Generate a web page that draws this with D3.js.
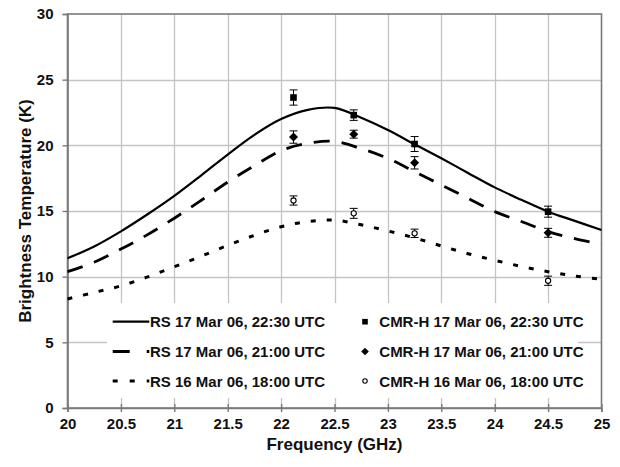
<!DOCTYPE html>
<html>
<head>
<meta charset="utf-8">
<script src="https://cdn.jsdelivr.net/npm/d3@7"></script>
<style>
  html, body { margin: 0; padding: 0; background: #fff; }
  svg text { font-family: "Liberation Sans", Arial, sans-serif; font-weight: bold; fill: #111; }
</style>
</head>
<body>
<svg id="chart" width="620" height="467"></svg>
<script>
// ---- data ----
const freqRS = [20, 20.25, 20.5, 20.75, 21, 21.25, 21.5, 21.75, 22, 22.25, 22.5, 22.75, 23, 23.25, 23.5, 23.75, 24, 24.25, 24.5, 24.75, 25];
const rs17_2230 = [11.4, 12.3, 13.45, 14.75, 16.15, 17.7, 19.3, 20.8, 22.0, 22.7, 22.85, 22.1, 21.17, 20.08, 19.01, 17.9, 16.8, 15.85, 14.95, 14.25, 13.55];
const rs17_2100 = [10.38, 11.1, 12.1, 13.2, 14.45, 15.8, 17.2, 18.45, 19.6, 20.15, 20.3, 19.75, 19.0, 18.0, 16.98, 15.97, 14.95, 14.2, 13.43, 12.9, 12.45];
const rs16_1800 = [8.3, 8.8, 9.3, 9.98, 10.76, 11.55, 12.38, 13.15, 13.8, 14.2, 14.3, 13.95, 13.48, 12.95, 12.34, 11.75, 11.25, 10.78, 10.38, 10.05, 9.8];

const freqCMR = [22.116, 22.68, 23.25, 24.5];
const cmr17_2230 = [23.64, 22.3, 20.1, 14.95];
const err17_2230 = [0.58, 0.4, 0.57, 0.42];
const cmr17_2100 = [20.63, 20.85, 18.67, 13.34];
const err17_2100 = [0.47, 0.3, 0.47, 0.34];
const cmr16_1800 = [15.8, 14.82, 13.3, 9.69];
const err16_1800 = [0.35, 0.38, 0.32, 0.35];

const xTicks = [20, 20.5, 21, 21.5, 22, 22.5, 23, 23.5, 24, 24.5, 25];
const yTicks = [0, 5, 10, 15, 20, 25, 30];

const rsLabels = ["RS 17 Mar 06, 22:30 UTC", "RS 17 Mar 06, 21:00 UTC", "RS 16 Mar 06, 18:00 UTC"];
const cmrLabels = ["CMR-H 17 Mar 06, 22:30 UTC", "CMR-H 17 Mar 06, 21:00 UTC", "CMR-H 16 Mar 06, 18:00 UTC"];

// ---- layout ----
const svg = d3.select("#chart");
const L = 67.5, R = 601.5, T = 14, B = 408;
const x = d3.scaleLinear().domain([20, 25]).range([L, R]);
const y = d3.scaleLinear().domain([0, 30]).range([B, T]);
const axisColor = "#7a7a7a", gridColor = "#c4c4c4";

svg.append("rect").attr("width", 620).attr("height", 467).attr("fill", "#fff");

// grid
const g = svg.append("g");
g.selectAll(".vg").data(xTicks.slice(1, -1)).enter().append("line")
  .attr("x1", d => Math.round(x(d)) + 0.5).attr("x2", d => Math.round(x(d)) + 0.5)
  .attr("y1", T).attr("y2", B).attr("stroke", gridColor).attr("stroke-width", 1.3);
g.selectAll(".hg").data(yTicks.slice(1, -1)).enter().append("line")
  .attr("y1", d => Math.round(y(d)) + 0.5).attr("y2", d => Math.round(y(d)) + 0.5)
  .attr("x1", L).attr("x2", R).attr("stroke", gridColor).attr("stroke-width", 1.3);

// legend background (covers grid)
svg.append("rect").attr("x", 107).attr("y", 303).attr("width", 471).attr("height", 95).attr("fill", "#fff");

// frame
svg.append("rect").attr("x", L).attr("y", T).attr("width", R - L).attr("height", B - T)
  .attr("fill", "none").attr("stroke", axisColor).attr("stroke-width", 1.6);

// axes
const xAxis = d3.axisBottom(x).tickValues(xTicks).tickSize(4).tickPadding(6).tickFormat(d3.format("~g"));
const xg = svg.append("g").attr("transform", `translate(0,${B})`).call(xAxis);
xg.select(".domain").attr("stroke", axisColor).attr("stroke-width", 1.6);
xg.selectAll(".tick line").attr("stroke", axisColor).attr("stroke-width", 1.4).attr("y1", -4);
xg.selectAll(".tick text").attr("font-size", 15).attr("fill", "#111")
  .style("font-family", "'Liberation Sans', Arial, sans-serif").style("font-weight", "bold");

const yAxis = d3.axisLeft(y).tickValues(yTicks).tickSize(5).tickPadding(9);
const yg = svg.append("g").attr("transform", `translate(${L},0)`).call(yAxis);
yg.select(".domain").attr("stroke", axisColor).attr("stroke-width", 1.6);
yg.selectAll(".tick line").attr("stroke", axisColor).attr("stroke-width", 1.4);
yg.selectAll(".tick text").attr("font-size", 15).attr("fill", "#111")
  .style("font-family", "'Liberation Sans', Arial, sans-serif").style("font-weight", "bold");

// axis titles
svg.append("text").attr("x", (L + R) / 2).attr("y", 450).attr("text-anchor", "middle")
  .attr("font-size", 17).text("Frequency (GHz)");
svg.append("text").attr("transform", "translate(31,211) rotate(-90)").attr("text-anchor", "middle")
  .attr("font-size", 17).text("Brightness Temperature (K)");

// curves
const series = [
  { vals: rs17_2230, dash: null, w: 2.2 },
  { vals: rs17_2100, dash: "16,12", w: 2.8 },
  { vals: rs16_1800, dash: "5,11", w: 3 }
];
const line = d3.line().x(d => x(d[0])).y(d => y(d[1])).curve(d3.curveCatmullRom.alpha(0.5));
series.forEach(s => {
  svg.append("path").datum(freqRS.map((f, i) => [f, s.vals[i]]))
    .attr("d", line).attr("fill", "none").attr("stroke", "#000")
    .attr("stroke-width", s.w).attr("stroke-dasharray", s.dash);
});

// error bars + markers
const cmrSets = [
  { vals: cmr17_2230, err: err17_2230, type: "square" },
  { vals: cmr17_2100, err: err17_2100, type: "diamond" },
  { vals: cmr16_1800, err: err16_1800, type: "circle" }
];
function drawMarker(sel, type, cx, cy, k) {
  k = k || 1;
  if (type === "square") {
    sel.append("rect").attr("x", cx - 3.3 * k).attr("y", cy - 3.3 * k).attr("width", 6.6 * k).attr("height", 6.6 * k).attr("fill", "#000");
  } else if (type === "diamond") {
    const r = 4.5 * k;
    sel.append("path").attr("d", `M${cx},${cy - r}L${cx + r},${cy}L${cx},${cy + r}L${cx - r},${cy}Z`).attr("fill", "#000");
  } else {
    sel.append("circle").attr("cx", cx).attr("cy", cy).attr("r", 2.6 * k).attr("fill", "#fff").attr("stroke", "#000").attr("stroke-width", 1.1);
  }
}
cmrSets.forEach(s => {
  freqCMR.forEach((f, i) => {
    const cx = x(f), y1 = y(s.vals[i] + s.err[i]), y2 = y(s.vals[i] - s.err[i]);
    const eg = svg.append("g").attr("stroke", "#000").attr("stroke-width", 1);
    eg.append("line").attr("x1", cx).attr("x2", cx).attr("y1", y1).attr("y2", y2);
    eg.append("line").attr("x1", cx - 4).attr("x2", cx + 4).attr("y1", y1).attr("y2", y1);
    eg.append("line").attr("x1", cx - 4).attr("x2", cx + 4).attr("y1", y2).attr("y2", y2);
    drawMarker(svg, s.type, cx, y(s.vals[i]));
  });
});

// legend
const rowY = [321.7, 351.5, 381];
const legendDash = [null, "17,17", "5,12"];
const legendW = [2.2, 2.8, 3];
rsLabels.forEach((lab, i) => {
  svg.append("line").attr("x1", 112.7).attr("x2", 149.3).attr("y1", rowY[i]).attr("y2", rowY[i])
    .attr("stroke", "#000").attr("stroke-width", legendW[i]).attr("stroke-dasharray", legendDash[i]);
  svg.append("text").attr("x", 150).attr("y", rowY[i] + 5.5).attr("font-size", 15).text(lab);
});
cmrLabels.forEach((lab, i) => {
  drawMarker(svg, cmrSets[i].type, 365, rowY[i], 0.85);
  svg.append("text").attr("x", 379.3).attr("y", rowY[i] + 5.5).attr("font-size", 15).text(lab);
});
</script>
</body>
</html>
